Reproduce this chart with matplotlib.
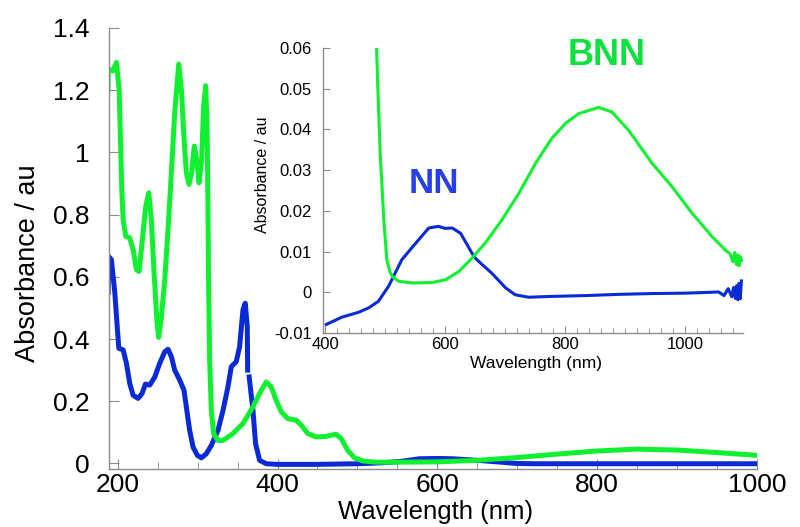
import numpy as np
import matplotlib
matplotlib.use('Agg')
import matplotlib.pyplot as plt
from matplotlib.ticker import MultipleLocator, FuncFormatter

plt.rcParams['font.family'] = ['Liberation Sans', 'DejaVu Sans']

# main spectrum (UV-vis), wavelength in nm
nn_wl = [188, 188.3, 192, 196.3, 199.6, 201.3, 206.7, 210.8, 215, 219.2, 225.4,
         230.4, 234.6, 240, 246.3, 252.5, 258.8, 262.9, 267.1, 271.3, 277.5,
         282.9, 285.8, 290, 294.2, 299.6, 304.6, 310.8, 317.1, 325.4, 331.7,
         337.9, 342.1, 348.3, 352.5, 356.7, 359.6, 362.1, 362.6, 363.5, 364.5,
         369.2, 372.5, 377.5, 385.9, 400, 450, 500, 530, 552.5, 577.5, 600, 619,
         650, 680, 698, 720, 802, 900, 1000]
nn_abs = [0.55, 0.666, 0.655, 0.548, 0.429, 0.370, 0.365, 0.322, 0.257, 0.219,
          0.209, 0.225, 0.255, 0.252, 0.278, 0.322, 0.359, 0.367, 0.343, 0.300,
          0.268, 0.235, 0.182, 0.106, 0.053, 0.026, 0.018, 0.031, 0.058, 0.106,
          0.17, 0.246, 0.311, 0.327, 0.375, 0.494, 0.515, 0.44, 0.30, np.nan,
          0.278, 0.171, 0.064, 0.010, -0.001, -0.003, -0.003, -0.001, 0.002,
          0.006, 0.015, 0.016, 0.015, 0.01, 0.004, 0.0, -0.001, -0.001, -0.001,
          -0.001]

bnn_wl = [187.9, 188.2, 194, 198.3, 201.7, 203.3, 205, 206.7, 210, 215, 219.2,
          223.3, 226.7, 230.8, 235, 238.8, 242, 245.4, 249.2, 251.2, 254.6,
          258.8, 262.9, 267.1, 271.3, 276.3, 279.6, 282.5, 285.8, 289.2, 292.5,
          295.8, 299.2, 301.7, 305, 307.5, 310, 311.7, 312.9, 313.6, 315, 317.1,
          320, 325.4, 331.7, 344.2, 356.7, 369.2, 379.6, 385.9, 392.1, 398.3,
          404.6, 412.9, 423.3, 429.6, 437.9, 448.3, 460.8, 473.3, 479.6, 487.9,
          496.3, 506.7, 523.3, 546.7, 600, 650, 700, 750, 800, 850, 900, 950,
          1000]
bnn_abs = [1.203, 1.268, 1.262, 1.289, 1.203, 1.042, 0.881, 0.784, 0.730, 0.725,
           0.687, 0.623, 0.617, 0.719, 0.827, 0.870, 0.784, 0.612, 0.451, 0.405,
           0.472, 0.590, 0.752, 0.935, 1.128, 1.284, 1.203, 1.064, 0.935, 0.897,
           0.935, 1.020, 0.967, 0.902, 0.977, 1.149, 1.214, 1.096, 0.827, 0.60,
           0.332, 0.171, 0.096, 0.074, 0.074, 0.096, 0.128, 0.182, 0.235, 0.262,
           0.246, 0.203, 0.166, 0.144, 0.139, 0.123, 0.096, 0.085, 0.087, 0.094,
           0.080, 0.042, 0.018, 0.008, 0.004, 0.004, 0.005, 0.01, 0.019, 0.03,
           0.040, 0.046, 0.043, 0.035, 0.026]

# inset (vis-NIR)
nn_in_wl = [402, 428, 456, 473, 489, 506, 528, 556, 573, 589, 600, 612, 626,
            645, 650, 659, 678, 701, 717, 739, 778, 834, 889, 945, 1001, 1040,
            1056, 1065, 1072, 1078, 1081, 1084, 1086, 1088, 1090, 1092, 1094]
nn_in_abs = [-0.0079, -0.0061, -0.0049, -0.0038, -0.0022, 0.0015, 0.008, 0.0129,
             0.0158, 0.0162, 0.0157, 0.0158, 0.0145, 0.0096, 0.0085, 0.0072,
             0.0047, 0.0011, -0.0006, -0.0012, -0.001, -0.0008, -0.0005,
             -0.0003, -0.0002, 0.0, 0.0001, -0.0008, 0.0009, -0.0011, 0.0012,
             -0.0015, 0.0016, -0.0018, 0.0022, -0.0016, 0.0028]

bnn_in_wl = [486, 488, 492, 498, 503, 508, 512, 523, 545, 578, 601, 623, 645,
             667, 695, 723, 751, 778, 801, 823, 856, 878, 906, 945, 978, 1012,
             1045, 1067, 1075, 1080, 1083, 1086, 1088, 1090, 1092, 1094]
bnn_in_abs = [0.06, 0.0505, 0.034, 0.0178, 0.008, 0.0052, 0.0039, 0.0027,
              0.0023, 0.0024, 0.0031, 0.0051, 0.0084, 0.0121, 0.0178, 0.0243,
              0.0317, 0.0378, 0.0415, 0.0439, 0.0454, 0.0443, 0.0398, 0.0317,
              0.026, 0.0194, 0.0137, 0.0104, 0.0095, 0.0075, 0.0098, 0.0068,
              0.0092, 0.0065, 0.0088, 0.0078]

blue = '#0a2ad6'
green = '#10f030'
spine_col = '#8c8c8c'


def style_axes(ax, size, length):
    for s in ['top', 'right']:
        ax.spines[s].set_visible(False)
    for s in ['left', 'bottom']:
        ax.spines[s].set_color(spine_col)
        ax.spines[s].set_linewidth(1.0)
    ax.tick_params(which='both', direction='in', color=spine_col,
                   labelsize=size, labelcolor='black')
    ax.tick_params(which='major', length=length)
    ax.tick_params(which='minor', length=length * 0.7)
    ax.yaxis.set_major_formatter(FuncFormatter(lambda v, p: '%g' % round(v, 4)))


fig = plt.figure(figsize=(8, 5.27), dpi=100)

ax = fig.add_axes([0.136, 0.11, 0.81, 0.837])
ax.plot(nn_wl, nn_abs, color=blue, lw=3.6, solid_joinstyle='round')
ax.plot(bnn_wl, bnn_abs, color=green, lw=3.6, solid_joinstyle='round')
ax.set_xlim(188.75, 1000)
ax.set_ylim(-0.018, 1.4)
ax.xaxis.set_major_locator(MultipleLocator(200))
ax.xaxis.set_minor_locator(MultipleLocator(50))
ax.yaxis.set_major_locator(MultipleLocator(0.2))
style_axes(ax, 19, 7)
ax.tick_params(axis='y', pad=14)
ax.tick_params(axis='x', pad=3)
ax.set_xlabel('Wavelength (nm)', fontsize=18.5)
ax.set_ylabel('Absorbance / au', fontsize=19.5)
ax.xaxis.set_label_coords(0.505, -0.07)
ax.yaxis.set_label_coords(-0.104, 0.466)

ins = fig.add_axes([0.404, 0.368, 0.525, 0.541])
ins.patch.set_alpha(0)
ins.plot(nn_in_wl, nn_in_abs, color=blue, lw=2.2, solid_joinstyle='round')
ins.plot(bnn_in_wl, bnn_in_abs, color=green, lw=2.2, solid_joinstyle='round')
ins.set_xlim(397, 1097)
ins.set_ylim(-0.01, 0.06)
ins.xaxis.set_major_locator(MultipleLocator(200))
ins.xaxis.set_minor_locator(MultipleLocator(20))
ins.yaxis.set_major_locator(MultipleLocator(0.01))
style_axes(ins, 12, 5)
ins.tick_params(axis='y', pad=8)
ins.tick_params(axis='x', pad=3)
ins.set_xlabel('Wavelength (nm)', fontsize=12.5)
ins.set_ylabel('Absorbance / au', fontsize=11.5)
ins.xaxis.set_label_coords(0.507, -0.081)
ins.yaxis.set_label_coords(-0.126, 0.554)

ins.text(0.264, 0.526, 'NN', transform=ins.transAxes, color='#2a3ee8',
         fontsize=25, fontweight='bold', ha='center', va='center')
ins.text(0.676, 0.975, 'BNN', transform=ins.transAxes, color='#10e040',
         fontsize=26, fontweight='bold', ha='center', va='center')

fig.savefig('out.png', dpi=100)
